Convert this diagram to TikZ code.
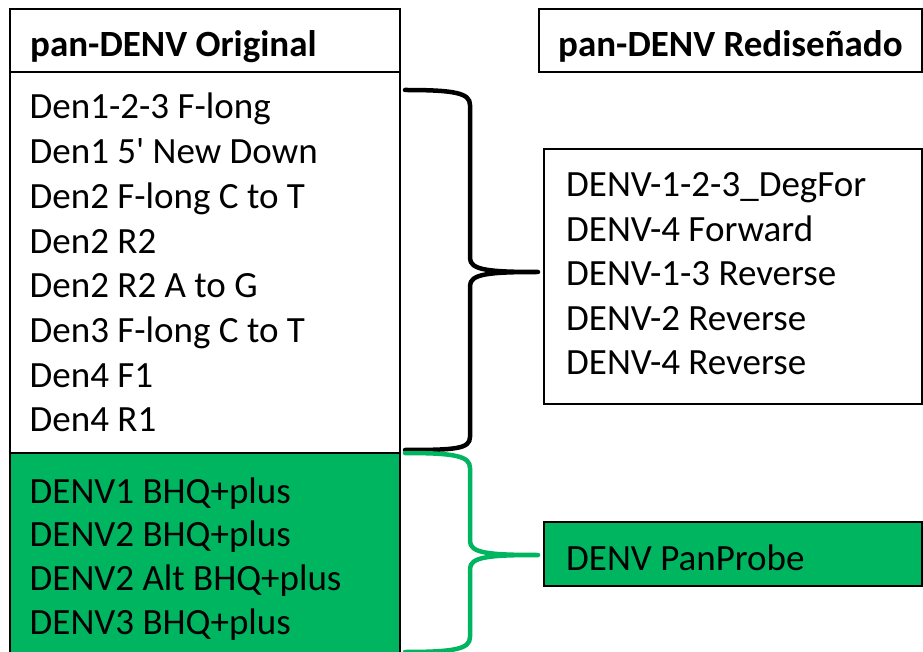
\documentclass[tikz,border=0pt]{standalone}
\usepackage{fontspec}
\setmainfont{Carlito}
\definecolor{probegreen}{RGB}{0,181,96}
\tikzset{
  box/.style={draw, line width=2pt, inner sep=0pt, anchor=south west},
  item/.style={anchor=base west, inner sep=0pt, font=\fontsize{37}{44}\selectfont},
  head/.style={item, font=\fontsize{37}{44}\selectfont\bfseries},
  brace/.style={line width=4.5pt, line cap=round, line join=round}
}

\begin{document}
\begin{tikzpicture}[x=1pt,y=1pt]
\useasboundingbox (0,0) rectangle (923,651);
%boxes
%left column
\node[box, fill=probegreen, minimum width=390pt, minimum height=215pt] (grnL) at (9,-18) {};
\node[box, fill=white, minimum width=390pt, minimum height=381pt] (origL) at (9,197) {};
\node[box, fill=white, minimum width=390pt, minimum height=63pt] (hdrL) at (9,578) {};
%right column
\node[box, minimum width=383pt, minimum height=63pt] (hdrR) at (538,578) {};
\node[box, minimum width=378pt, minimum height=255pt] (newR) at (543,246) {};
\node[box, fill=probegreen, minimum width=378pt, minimum height=64pt] (panR) at (543,64) {};

%headers
\node[head] (hdrLtxt) at (30,594) {pan-DENV Original};
\node[head] (hdrRtxt) at (558,594) {pan-DENV Rediseñado};

%original primers
\foreach \txt [count=\i] in {Den1-2-3 F-long, Den1 5\textquotesingle{} New Down, Den2 F-long C to T,
  Den2 R2, Den2 R2 A to G, Den3 F-long C to T, Den4 F1, Den4 R1}
  \node[item] (o\i) at (29.5,532-44.7*\i+44.7) {\txt};
%original probes
\foreach \txt [count=\i] in {DENV1 BHQ+plus, DENV2 BHQ+plus, DENV2 Alt BHQ+plus, DENV3 BHQ+plus}
  \node[item] (p\i) at (29.5,148-43.8*\i+43.8) {\txt};
%new primers
\foreach \txt [count=\i] in {DENV-1-2-3\_DegFor, DENV-4 Forward, DENV-1-3 Reverse,
  DENV-2 Reverse, DENV-4 Reverse}
  \node[item] (n\i) at (566,454.5-44.6*\i+44.6) {\txt};
%new probe
\node[item] (np) at (566,81) {DENV PanProbe};

%braces
%black
\coordinate (bTop) at (405,561);
\coordinate (bUp) at (470,546);
\coordinate (bMidA) at (470,393);
\coordinate (bTip) at (538,379);
\coordinate (bMidB) at (470,365);
\coordinate (bLow) at (470,214);
\coordinate (bBot) at (405,201);
\draw[brace] (bTop) .. controls +(50,0) and +(0,12) .. (bUp) -- (bMidA)
  .. controls +(0,-12) and +(-50,0) .. (bTip)
  .. controls +(-50,0) and +(0,12) .. (bMidB) -- (bLow)
  .. controls +(0,-12) and +(50,0) .. (bBot);
%green
\coordinate (gTop) at (405,198);
\coordinate (gUp) at (470,183);
\coordinate (gMidA) at (470,110);
\coordinate (gTip) at (538,96);
\coordinate (gMidB) at (470,82);
\coordinate (gLow) at (470,14);
\coordinate (gBot) at (405,-1);
\draw[brace, probegreen] (gTop) .. controls +(50,0) and +(0,12) .. (gUp) -- (gMidA)
  .. controls +(0,-12) and +(-50,0) .. (gTip)
  .. controls +(-50,0) and +(0,12) .. (gMidB) -- (gLow)
  .. controls +(0,-12) and +(50,0) .. (gBot);
\end{tikzpicture}
\end{document}
